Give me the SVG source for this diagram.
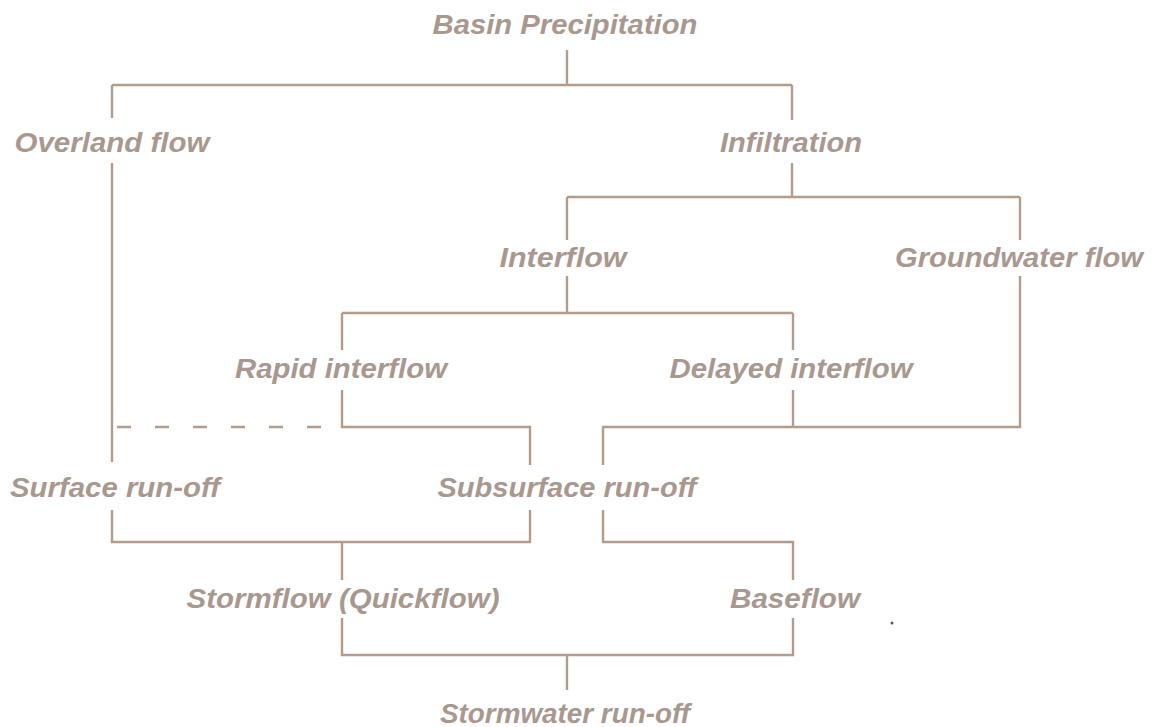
<svg xmlns="http://www.w3.org/2000/svg" width="1154" height="727" viewBox="0 0 1154 727">
<style>
text{font-family:"Liberation Sans",Arial,sans-serif;font-weight:bold;font-style:italic;font-size:27.5px;fill:#a8988f;text-anchor:middle}
.c{fill:none;stroke:#b49c8c;stroke-width:2.4}
.d{stroke-dasharray:14 24}
</style>
<rect width="1154" height="727" fill="#ffffff"/>
<g id="connectors">
<path class="c" d="M567 50V85M112 85H792M112 85V118M792 85V120"/>
<path class="c" d="M112 163V462M792 163V197M567 197H1020M567 197V240M1020 197V240"/>
<path class="c" d="M567 276V313M342 313H793M342 313V350M793 313V350"/>
<path class="c" d="M342 390V427H530V465M793 390V427M603 465V427H1020V276"/>
<path class="c d" d="M117 427H330"/>
<path class="c" d="M112 510V542H530V510M342 542V580M603 510V542H793V580"/>
<path class="c" d="M342 618V655H793V618M567 655V690"/>
</g>
<g id="basin"><text x="565" y="34" textLength="265" lengthAdjust="spacingAndGlyphs">Basin Precipitation</text></g>
<g id="overland"><text x="112" y="152" textLength="195" lengthAdjust="spacingAndGlyphs">Overland flow</text></g>
<g id="infiltration"><text x="791" y="152" textLength="142" lengthAdjust="spacingAndGlyphs">Infiltration</text></g>
<g id="interflow"><text x="563" y="267" textLength="127" lengthAdjust="spacingAndGlyphs">Interflow</text></g>
<g id="groundwater"><text x="1019" y="267" textLength="248" lengthAdjust="spacingAndGlyphs">Groundwater flow</text></g>
<g id="rapid"><text x="341" y="378" textLength="212" lengthAdjust="spacingAndGlyphs">Rapid interflow</text></g>
<g id="delayed"><text x="791" y="378" textLength="243" lengthAdjust="spacingAndGlyphs">Delayed interflow</text></g>
<g id="surface"><text x="115" y="497" textLength="210" lengthAdjust="spacingAndGlyphs">Surface run-off</text></g>
<g id="subsurface"><text x="567" y="497" textLength="259" lengthAdjust="spacingAndGlyphs">Subsurface run-off</text></g>
<g id="stormflow"><text x="343" y="608" textLength="313" lengthAdjust="spacingAndGlyphs">Stormflow (Quickflow)</text></g>
<g id="baseflow"><text x="795" y="608" textLength="130" lengthAdjust="spacingAndGlyphs">Baseflow</text></g>
<g id="stormwater"><text x="565" y="723" textLength="250" lengthAdjust="spacingAndGlyphs">Stormwater run-off</text></g>
<circle cx="892" cy="623" r="1.5" fill="#555"/>
</svg>
